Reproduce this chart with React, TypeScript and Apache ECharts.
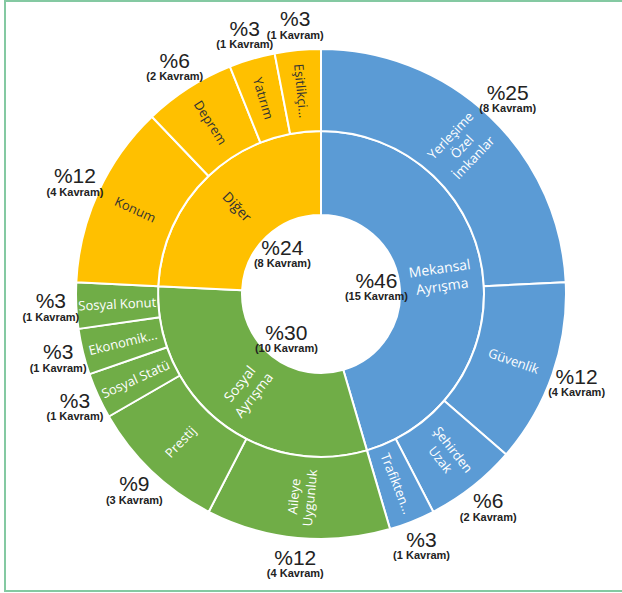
import React, { useEffect, useRef } from "react";
import * as echarts from "echarts";

const innerNames = ["Mekansal\nAyrışma", "Sosyal\nAyrışma", "Diğer"];
const innerValues = [15, 10, 8];
const innerPercents = [46, 30, 24];
const outerNames = [
  ["Yerleşime\nÖzel\nİmkanlar", "Güvenlik", "Şehirden\nUzak", "Trafikten..."],
  ["Aileye\nUygunluk", "Prestij", "Sosyal Statü", "Ekonomik...", "Sosyal Konut"],
  ["Konum", "Deprem", "Yatırım", "Eşitlikçi..."],
];
const outerValues = [
  [8, 4, 2, 1],
  [4, 3, 1, 1, 1],
  [4, 2, 1, 1],
];
const outerPercents = [
  [25, 12, 6, 3],
  [12, 9, 3, 3, 3],
  [12, 6, 3, 3],
];
const colors = ["#5B9BD5", "#70AD47", "#FFC000"];
const labelColors = ["#ffffff", "#ffffff", "#333333"];

export default function App() {
  const ref = useRef<HTMLDivElement>(null);
  useEffect(() => {
    if (!ref.current) return;
    const chart = echarts.init(ref.current, undefined, { renderer: "svg" });
    const cx = 321;
    const cy = 294;

    const sunData = innerNames.map((n, i) => ({
      name: n,
      value: innerValues[i],
      itemStyle: { color: colors[i] },
      label: { color: labelColors[i] },
      children: outerNames[i].map((c, j) => ({
        name: c,
        value: outerValues[i][j],
        itemStyle: { color: colors[i] },
        label: { color: labelColors[i] },
      })),
    }));

    const flatOuter: { value: number; name: string }[] = [];
    outerValues.forEach((arr, i) =>
      arr.forEach((v, j) =>
        flatOuter.push({ value: v, name: "%" + outerPercents[i][j] + "\n(" + v + " Kavram)" })
      )
    );
    const innerLabelData = innerValues.map((v, i) => ({
      value: v,
      name: "%" + innerPercents[i] + "\n(" + v + " Kavram)",
    }));

    const rich = {
      a: { fontSize: 21, fontFamily: "Liberation Sans", color: "#222", lineHeight: 20 },
      b: { fontSize: 11, fontWeight: "bold", fontFamily: "Liberation Sans", color: "#222", lineHeight: 12 },
    };
    const fmt = (p: any) => {
      const parts = String(p.name).split("\n");
      return "{a|" + parts[0] + "}\n{b|" + parts[1] + "}";
    };

    chart.setOption({
      animation: false,
      graphic: [
        {
          type: "polyline",
          shape: { points: [[622, 1], [5, 1], [5, 591], [622, 591]] },
          style: { stroke: "#84c9a2", lineWidth: 2, fill: "none" },
          silent: true,
        },
      ],
      series: [
        {
          type: "sunburst",
          center: [cx, cy],
          radius: [79, 245],
          startAngle: 90,
          sort: null,
          nodeClick: false,
          itemStyle: { borderColor: "#ffffff", borderWidth: 2 },
          label: {
            rotate: "radial",
            fontFamily: "Open Sans",
            fontSize: 13,
            lineHeight: 16,
            color: "#fff",
          },
          emphasis: { disabled: true },
          levels: [
            {},
            { r0: 79, r: 163, label: { fontSize: 14, lineHeight: 18 } },
            { r0: 163, r: 245 },
          ],
          data: sunData,
        },
        {
          type: "pie",
          center: [cx, cy],
          radius: [245, 290],
          startAngle: 90,
          silent: true,
          itemStyle: { color: "rgba(0,0,0,0)", borderWidth: 0 },
          label: { show: true, position: "inside", formatter: fmt, rich },
          labelLine: { show: false },
          labelLayout: { hideOverlap: false },
          emphasis: { disabled: true },
          data: flatOuter,
        },
        {
          type: "pie",
          center: [cx, cy],
          radius: [0, 106],
          startAngle: 90,
          silent: true,
          itemStyle: { color: "rgba(0,0,0,0)", borderWidth: 0 },
          label: { show: true, position: "inside", formatter: fmt, rich },
          labelLine: { show: false },
          labelLayout: { hideOverlap: false },
          emphasis: { disabled: true },
          data: innerLabelData,
        },
      ],
    });
    return () => chart.dispose();
  }, []);
  return (
    <div
      ref={ref}
      style={{ position: "absolute", left: 0, top: 0, width: 622, height: 593, background: "#fff" }}
    />
  );
}
